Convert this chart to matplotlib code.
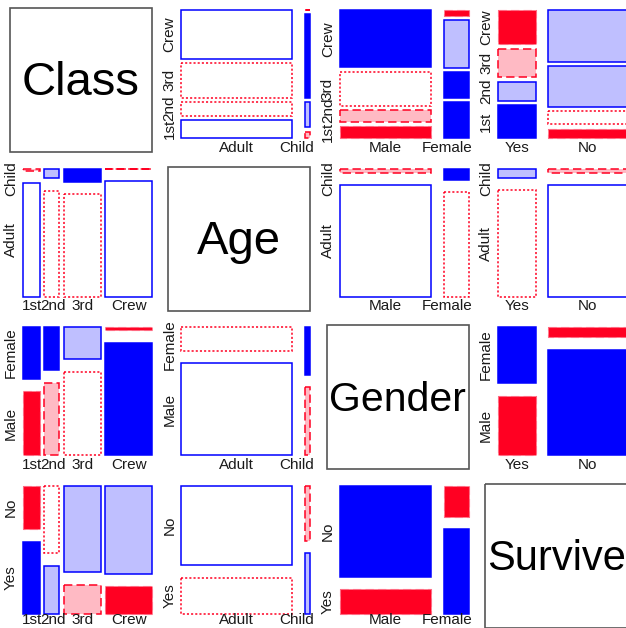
import numpy as np
import matplotlib
matplotlib.use('Agg')
import matplotlib.pyplot as plt
from matplotlib.patches import Rectangle
from matplotlib.textpath import TextPath
from matplotlib.font_manager import FontProperties

# Titanic counts by class (1st, 2nd, 3rd, Crew)
classes = ['1st', '2nd', '3rd', 'Crew']
ages = ['Adult', 'Child']
genders = ['Male', 'Female']
survive = ['Yes', 'No']

adult_male_yes = [57, 14, 75, 192]
adult_male_no = [118, 154, 387, 670]
adult_female_yes = [140, 80, 76, 20]
adult_female_no = [4, 13, 89, 3]
child_male_yes = [5, 11, 13, 0]
child_male_no = [0, 0, 35, 0]
child_female_yes = [1, 13, 14, 0]
child_female_no = [0, 0, 17, 0]

var_names = ['Class', 'Age', 'Gender', 'Survive']
levels = [classes, ages, genders, survive]
name_sizes = [34, 34, 29.5, 30]

counts = np.zeros((4, 2, 2, 2))
counts[:, 0, 0, 0] = adult_male_yes
counts[:, 0, 0, 1] = adult_male_no
counts[:, 0, 1, 0] = adult_female_yes
counts[:, 0, 1, 1] = adult_female_no
counts[:, 1, 0, 0] = child_male_yes
counts[:, 1, 0, 1] = child_male_no
counts[:, 1, 1, 0] = child_female_yes
counts[:, 1, 1, 1] = child_female_no

BLUE = '#0000FF'
LBLUE = '#BFBFFF'
RED = '#FF0022'
LRED = '#FFBAC4'
TXT = '#1a1a1a'

plt.rcParams['lines.scale_dashes'] = False
FONT = 'Liberation Sans'
fp = FontProperties(family=FONT)
LAB_PT = 11

# panel geometry in pixels
X0, Y0 = 23, 10
PX, PY = 158.4, 158.6
W, H = 129, 128
GAP = 12.6


def text_len(s, size_pt):
    return TextPath((0, 0), s, size=size_pt * 100 / 72, prop=fp).get_extents().width


def spread(centers, lengths, lo, hi):
    p = list(centers)
    n = len(p)
    p[0] = max(p[0], lo + lengths[0] / 2)
    for k in range(1, n):
        p[k] = max(p[k], p[k - 1] + (lengths[k - 1] + lengths[k]) / 2)
    p[-1] = min(p[-1], hi - lengths[-1] / 2)
    for k in range(n - 2, -1, -1):
        p[k] = min(p[k], p[k + 1] - (lengths[k] + lengths[k + 1]) / 2)
    return p


def tile_style(r, empty):
    if r > 4:
        return dict(facecolor=BLUE, edgecolor=BLUE, linestyle='-', lw=1.1)
    if r > 2:
        return dict(facecolor=LBLUE, edgecolor=BLUE, linestyle='-', lw=1.1)
    if r >= 0:
        return dict(facecolor='white', edgecolor=BLUE, linestyle='-', lw=1.1)
    if r >= -2:
        return dict(facecolor='white', edgecolor=RED, linestyle=(0, (1.5, 1.5)), lw=1.1)
    if r >= -4 or empty:
        return dict(facecolor=LRED, edgecolor=RED, linestyle=(0, (6, 3)), lw=1.1)
    return dict(facecolor=RED, edgecolor='#FF6A82', linestyle=(0, (6, 3)), lw=0.8)


fig = plt.figure(figsize=(6.26, 6.28), dpi=100)
ax = fig.add_axes([0, 0, 1, 1])
ax.set_xlim(0, 626)
ax.set_ylim(628, 0)
ax.axis('off')

for i in range(4):
    for j in range(4):
        x0 = X0 + PX * j
        y0 = Y0 + PY * i
        if i == j:
            ax.add_patch(Rectangle((x0 - 13, y0 - 2), W + 13, H + 16,
                                   fill=False, edgecolor='#555555', lw=1.2))
            ax.text(x0 - 13 + (W + 13) / 2, y0 + 1 + (H + 16) / 2, var_names[i],
                    ha='center', va='center', fontsize=name_sizes[i],
                    family=FONT, color='black')
            continue
        other = tuple(k for k in range(4) if k not in (i, j))
        t = counts.sum(axis=other)
        if j > i:
            t = t.T  # rows: x variable (j), cols: y variable (i)
        n = t.sum()
        xs = t.sum(axis=1)
        ys = t.sum(axis=0)
        exp = np.outer(xs, ys) / n
        res = (t - exp) / np.sqrt(exp)

        nx, ny = t.shape
        gx = GAP / (nx - 1)
        gy = GAP / (ny - 1)
        widths = (W - GAP) * xs / n
        xl = x0 + np.concatenate([[0], np.cumsum(widths)[:-1]]) + gx * np.arange(nx)
        first_col = []
        for k in range(nx):
            hts = (H - GAP) * t[k] / xs[k]
            bot = y0 + H - np.concatenate([[0], np.cumsum(hts)[:-1]]) - gy * np.arange(ny)
            for l in range(ny):
                st = tile_style(res[k, l], t[k, l] == 0)
                ax.add_patch(Rectangle((xl[k], bot[l] - hts[l]), widths[k], hts[l],
                                       joinstyle='miter', **st))
                if k == 0:
                    first_col.append(y0 + H - (bot[l] - hts[l] / 2))

        # x labels under the mosaic
        xlab = levels[j]
        xlen = [text_len(s, LAB_PT) for s in xlab]
        xc = spread(list(xl - x0 + widths / 2), xlen, -8, W + 3)
        off = 9.5 if i < 3 else 6.5
        for s, c in zip(xlab, xc):
            ax.text(x0 + c, y0 + H + off, s, ha='center', va='center',
                    fontsize=LAB_PT, family=FONT, color=TXT)

        # y labels to the left, next to the first column
        ylab = levels[i]
        ylen = [text_len(s, LAB_PT) for s in ylab]
        yc = spread(first_col, ylen, -5, H + 7)
        for s, c in zip(ylab, yc):
            ax.text(x0 - 12, y0 + H - c, s, ha='center', va='center', rotation=90,
                    fontsize=LAB_PT, family=FONT, color=TXT)

fig.savefig('out.png', dpi=100)
